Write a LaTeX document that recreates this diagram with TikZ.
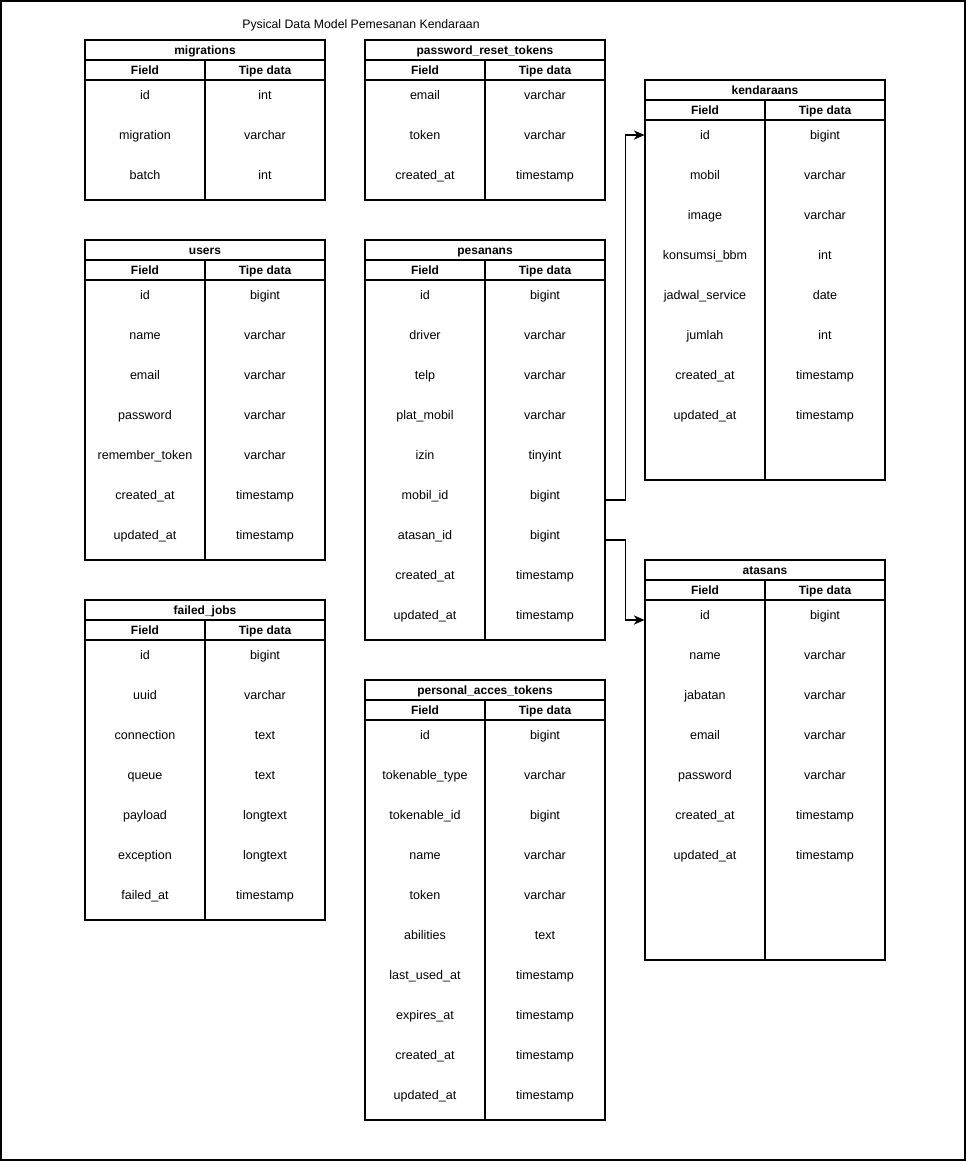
\documentclass[tikz,border=0pt]{standalone}
\usepackage{fontspec}
\setmainfont{Liberation Sans}
\usetikzlibrary{arrows.meta,calc}

\begin{document}
\begin{tikzpicture}[
  x=0.75pt, y=-0.75pt,
  every node/.style={font=\fontsize{9}{11}\selectfont},
  frame/.style={draw, line width=1.2pt},
  tabtitle/.style={draw, line width=0.8pt, minimum width=180pt, minimum height=15pt,
                   inner sep=0pt, text height=1.5ex, text depth=.3ex,
                   font=\fontsize{9}{11}\selectfont\bfseries},
  colhead/.style={draw, line width=0.8pt, minimum width=90pt, minimum height=15pt,
                  inner sep=0pt, text height=1.5ex, text depth=.3ex,
                  font=\fontsize{9}{11}\selectfont\bfseries},
  colbody/.style={draw, line width=0.8pt, minimum width=90pt, inner sep=0pt},
  rowtxt/.style={inner sep=0pt, text height=1.5ex, text depth=.3ex,
                 font=\fontsize{9.4}{11}\selectfont},
  fk/.style={-{Stealth[length=8pt,width=7pt,inset=2.5pt]}, line width=0.8pt},
]
\useasboundingbox (0,0) rectangle (966,1161);
\draw[frame] (1,1) rectangle (965,1160);

\node[font=\fontsize{9.2}{11}\selectfont] (title) at (361,25)
     {Pysical Data Model Pemesanan Kendaraan};

% ── migrations ──────────────────────────────────────────────────────────
\begin{scope}[shift={(85,40)}]
  \node[tabtitle] (mig) at (120,10) {migrations};
  \node[colhead] (mig-hf) at (60,30) {Field};
  \node[colhead] (mig-ht) at (180,30) {Tipe data};
  \node[colbody, minimum height=90pt] (mig-bf) at (60,100) {};
  \node[colbody, minimum height=90pt] (mig-bt) at (180,100) {};
  \foreach \f/\t [count=\i] in {id/int, migration/varchar, batch/int}
    { \node[rowtxt] (mig-f\i) at (60,15+40*\i) {\f};
      \node[rowtxt] (mig-t\i) at (180,15+40*\i) {\t}; }
\end{scope}

% ── password_reset_tokens ───────────────────────────────────────────────
\begin{scope}[shift={(365,40)}]
  \node[tabtitle] (prt) at (120,10) {password\_reset\_tokens};
  \node[colhead] (prt-hf) at (60,30) {Field};
  \node[colhead] (prt-ht) at (180,30) {Tipe data};
  \node[colbody, minimum height=90pt] (prt-bf) at (60,100) {};
  \node[colbody, minimum height=90pt] (prt-bt) at (180,100) {};
  \foreach \f/\t [count=\i] in {email/varchar, token/varchar, created\_at/timestamp}
    { \node[rowtxt] (prt-f\i) at (60,15+40*\i) {\f};
      \node[rowtxt] (prt-t\i) at (180,15+40*\i) {\t}; }
\end{scope}

% ── kendaraans ──────────────────────────────────────────────────────────
\begin{scope}[shift={(645,80)}]
  \node[tabtitle] (ken) at (120,10) {kendaraans};
  \node[colhead] (ken-hf) at (60,30) {Field};
  \node[colhead] (ken-ht) at (180,30) {Tipe data};
  \node[colbody, minimum height=270pt] (ken-bf) at (60,220) {};
  \node[colbody, minimum height=270pt] (ken-bt) at (180,220) {};
  \foreach \f/\t [count=\i] in {id/bigint, mobil/varchar, image/varchar,
      konsumsi\_bbm/int, jadwal\_service/date, jumlah/int,
      created\_at/timestamp, updated\_at/timestamp}
    { \node[rowtxt] (ken-f\i) at (60,15+40*\i) {\f};
      \node[rowtxt] (ken-t\i) at (180,15+40*\i) {\t}; }
\end{scope}

% ── users ───────────────────────────────────────────────────────────────
\begin{scope}[shift={(85,240)}]
  \node[tabtitle] (usr) at (120,10) {users};
  \node[colhead] (usr-hf) at (60,30) {Field};
  \node[colhead] (usr-ht) at (180,30) {Tipe data};
  \node[colbody, minimum height=210pt] (usr-bf) at (60,180) {};
  \node[colbody, minimum height=210pt] (usr-bt) at (180,180) {};
  \foreach \f/\t [count=\i] in {id/bigint, name/varchar, email/varchar,
      password/varchar, remember\_token/varchar,
      created\_at/timestamp, updated\_at/timestamp}
    { \node[rowtxt] (usr-f\i) at (60,15+40*\i) {\f};
      \node[rowtxt] (usr-t\i) at (180,15+40*\i) {\t}; }
\end{scope}

% ── pesanans ────────────────────────────────────────────────────────────
\begin{scope}[shift={(365,240)}]
  \node[tabtitle] (pes) at (120,10) {pesanans};
  \node[colhead] (pes-hf) at (60,30) {Field};
  \node[colhead] (pes-ht) at (180,30) {Tipe data};
  \node[colbody, minimum height=270pt] (pes-bf) at (60,220) {};
  \node[colbody, minimum height=270pt] (pes-bt) at (180,220) {};
  \foreach \f/\t [count=\i] in {id/bigint, driver/varchar, telp/varchar,
      plat\_mobil/varchar, izin/tinyint, mobil\_id/bigint, atasan\_id/bigint,
      created\_at/timestamp, updated\_at/timestamp}
    { \node[rowtxt] (pes-f\i) at (60,15+40*\i) {\f};
      \node[rowtxt] (pes-t\i) at (180,15+40*\i) {\t}; }
\end{scope}

% ── failed_jobs ─────────────────────────────────────────────────────────
\begin{scope}[shift={(85,600)}]
  \node[tabtitle] (fj) at (120,10) {failed\_jobs};
  \node[colhead] (fj-hf) at (60,30) {Field};
  \node[colhead] (fj-ht) at (180,30) {Tipe data};
  \node[colbody, minimum height=210pt] (fj-bf) at (60,180) {};
  \node[colbody, minimum height=210pt] (fj-bt) at (180,180) {};
  \foreach \f/\t [count=\i] in {id/bigint, uuid/varchar, connection/text,
      queue/text, payload/longtext, exception/longtext, failed\_at/timestamp}
    { \node[rowtxt] (fj-f\i) at (60,15+40*\i) {\f};
      \node[rowtxt] (fj-t\i) at (180,15+40*\i) {\t}; }
\end{scope}

% ── personal_acces_tokens ───────────────────────────────────────────────
\begin{scope}[shift={(365,680)}]
  \node[tabtitle] (pat) at (120,10) {personal\_acces\_tokens};
  \node[colhead] (pat-hf) at (60,30) {Field};
  \node[colhead] (pat-ht) at (180,30) {Tipe data};
  \node[colbody, minimum height=300pt] (pat-bf) at (60,240) {};
  \node[colbody, minimum height=300pt] (pat-bt) at (180,240) {};
  \foreach \f/\t [count=\i] in {id/bigint, tokenable\_type/varchar,
      tokenable\_id/bigint, name/varchar, token/varchar, abilities/text,
      last\_used\_at/timestamp, expires\_at/timestamp,
      created\_at/timestamp, updated\_at/timestamp}
    { \node[rowtxt] (pat-f\i) at (60,15+40*\i) {\f};
      \node[rowtxt] (pat-t\i) at (180,15+40*\i) {\t}; }
\end{scope}

% ── atasans ─────────────────────────────────────────────────────────────
\begin{scope}[shift={(645,560)}]
  \node[tabtitle] (ata) at (120,10) {atasans};
  \node[colhead] (ata-hf) at (60,30) {Field};
  \node[colhead] (ata-ht) at (180,30) {Tipe data};
  \node[colbody, minimum height=270pt] (ata-bf) at (60,220) {};
  \node[colbody, minimum height=270pt] (ata-bt) at (180,220) {};
  \foreach \f/\t [count=\i] in {id/bigint, name/varchar, jabatan/varchar,
      email/varchar, password/varchar, created\_at/timestamp, updated\_at/timestamp}
    { \node[rowtxt] (ata-f\i) at (60,15+40*\i) {\f};
      \node[rowtxt] (ata-t\i) at (180,15+40*\i) {\t}; }
\end{scope}

% ── foreign keys ────────────────────────────────────────────────────────
\draw[fk] ([yshift=-3.75pt]pes-t6.center -| pes-bt.east) -- ++(20,0)
          |- (ken-f1.center -| ken-bf.west);
\draw[fk] ([yshift=-3.75pt]pes-t7.center -| pes-bt.east) -- ++(20,0)
          |- ([yshift=-3.75pt]ata-f1.center -| ata-bf.west);

\end{tikzpicture}
\end{document}
